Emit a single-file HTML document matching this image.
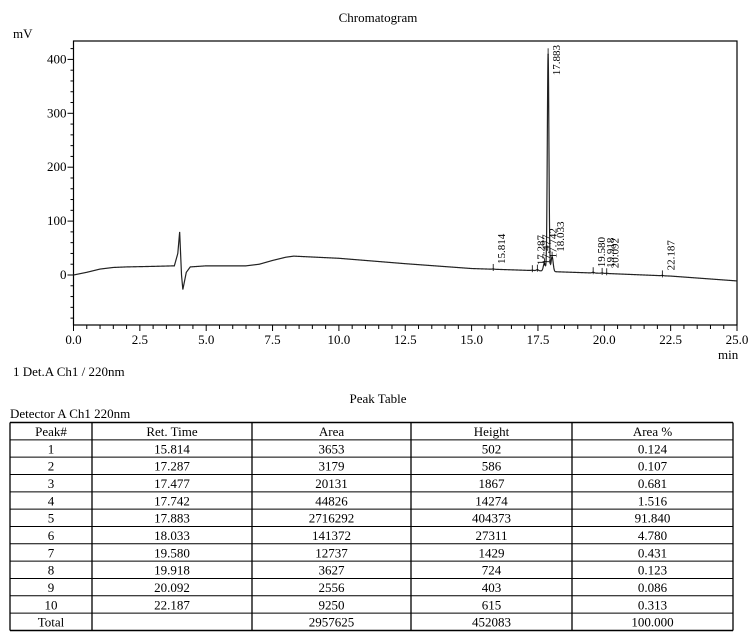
<!DOCTYPE html>
<html><head><meta charset="utf-8"><style>
body{margin:0;background:#fff;font-family:"Liberation Serif",serif;}
svg{display:block}
</style></head><body>
<svg id="chart" width="750" height="643" viewBox="0 0 750 643" xmlns="http://www.w3.org/2000/svg" font-family="Liberation Serif, serif" fill="#000"></svg>
<script>
// ---- data ----
const baseTimes = [0,0.5,1,1.5,2,3,3.8,3.93,4.0,4.07,4.12,4.25,4.4,5,6.5,7,7.5,8,8.3,10,12.5,15,17.5,18.2,20,22.5,25];
const baseValues = [0,5,11,14,15,16,17,40,80,0,-27,5,15,17,17,20,27,33,35,31,21,12,8,6,3,-2,-11];
const peakTimes = [15.814,17.287,17.477,17.742,17.883,18.033,19.580,19.918,20.092,22.187];
const peakHeights = [0.502,0.586,1.867,14.274,404.373,27.311,1.429,0.724,0.403,0.615];
const peakAreas = [3653,3179,20131,44826,2716292,141372,12737,3627,2556,9250];
const areaPct = ["0.124","0.107","0.681","1.516","91.840","4.780","0.431","0.123","0.086","0.313"];
const yTicks = [0,100,200,300,400];
const xTicks = [0,2.5,5,7.5,10,12.5,15,17.5,20,22.5,25];

const NS="http://www.w3.org/2000/svg";
const svg=document.getElementById('chart');
function mk(tag,attrs,parent){const e=document.createElementNS(NS,tag);for(const k in attrs)e.setAttribute(k,attrs[k]);(parent||svg).appendChild(e);return e;}
const X0=73.5,X1=737,Y0=275,YPER=0.539,TOP=41,BOT=325;
const xs=t=>X0+(t/25)*(X1-X0);
const ys=v=>Y0-v*YPER;
function base(t){for(let i=1;i<baseTimes.length;i++){if(t<=baseTimes[i]){const a=baseTimes[i-1],b=baseTimes[i];const f=(t-a)/(b-a);return baseValues[i-1]+f*(baseValues[i]-baseValues[i-1]);}}return baseValues[baseValues.length-1];}
function signal(t){let v=base(t);for(let i=0;i<peakTimes.length;i++){const s=i===4?0.03:0.04;const d=t-peakTimes[i];v+=peakHeights[i]*Math.exp(-d*d/(2*s*s));}return v;}

let e;
e=mk('text',{x:378,y:22,'text-anchor':'middle','font-size':13});e.textContent='Chromatogram';


e=mk('text',{x:13,y:38,'font-size':13});e.textContent='mV';


e=mk('text',{x:718,y:359,'font-size':13});e.textContent='min';


e=mk('text',{x:13,y:376,'font-size':13});e.textContent='1 Det.A Ch1 / 220nm';



e=mk('rect',{x:X0,y:TOP,width:X1-X0,height:BOT-TOP,fill:'none',stroke:'#000','stroke-width':1.2});



const yg=mk('g',{stroke:'#000','stroke-width':1});


for(let v=-100;v<=420;v+=20){const y=ys(v);if(y<TOP||y>BOT)continue;const major=v%100===0;mk('line',{x1:X0-(major?6:3),x2:X0,y1:y,y2:y},yg);}
yTicks.forEach(v=>{const t=mk('text',{x:X0-7,y:ys(v)+4,'text-anchor':'end','font-size':13,stroke:'none'},yg);t.textContent=v;

});
const xg=mk('g',{stroke:'#000','stroke-width':1});


for(let k=0;k<=50;k++){const t=k*0.5;const x=xs(t);const major=k%5===0;mk('line',{x1:x,x2:x,y1:BOT,y2:BOT+(major?6:4)},xg);}
xTicks.forEach(v=>{const t=mk('text',{x:xs(v),y:BOT+19,'text-anchor':'middle','font-size':13,stroke:'none'},xg);t.textContent=v.toFixed(1);

});

let d='';
for(let t=0;t<=25.0001;t+=0.005){d+=(d?'L':'M')+xs(t).toFixed(2)+','+ys(signal(t)).toFixed(2);}
e=mk('path',{d:d,fill:'none',stroke:'#222','stroke-width':1.2});



peakTimes.forEach((t,i)=>{
  const px=xs(t);const py=ys(signal(t));
  mk('line',{x1:px,x2:px,y1:py-5,y2:py+2,stroke:'#000','stroke-width':0.8});
  const startY=py-5;let y,anchor;
  if(startY-34<TOP){y=TOP+4;anchor='end';}else{y=startY;anchor='start';}
  const lbl=mk('text',{x:0,y:0,'font-size':11,'text-anchor':anchor,transform:`translate(${px+12},${y}) rotate(-90)`});
  lbl.textContent=t.toFixed(3);
  
  
});

e=mk('text',{x:378,y:403,'text-anchor':'middle','font-size':13});e.textContent='Peak Table';


e=mk('text',{x:10,y:418,'font-size':13});e.textContent='Detector A Ch1 220nm';


const cols=[10,92,252,411,572,733];
const TT=422.5,RH=17.33,NR=12;
const tg=mk('g',{});


for(let r=0;r<=NR;r++){mk('line',{x1:cols[0],x2:cols[5],y1:TT+r*RH,y2:TT+r*RH,stroke:'#000','stroke-width':r===0||r===NR?1.5:1},tg);}
cols.forEach(c=>mk('line',{x1:c,x2:c,y1:TT,y2:TT+NR*RH,stroke:'#000','stroke-width':1.3},tg));
const heights=peakHeights.map(h=>Math.round(h*1000));
const rows=[['Peak#','Ret. Time','Area','Height','Area %']];
peakTimes.forEach((t,i)=>rows.push([String(i+1),t.toFixed(3),String(peakAreas[i]),String(heights[i]),areaPct[i]]));
rows.push(['Total','','2957625','452083','100.000']);
rows.forEach((row,r)=>row.forEach((txt,c)=>{
  const cx=(cols[c]+cols[c+1])/2;
  const t=mk('text',{x:cx,y:TT+r*RH+13.5,'text-anchor':'middle','font-size':13},tg);
  t.textContent=txt;
  
  
}));
</script>
</body></html>
